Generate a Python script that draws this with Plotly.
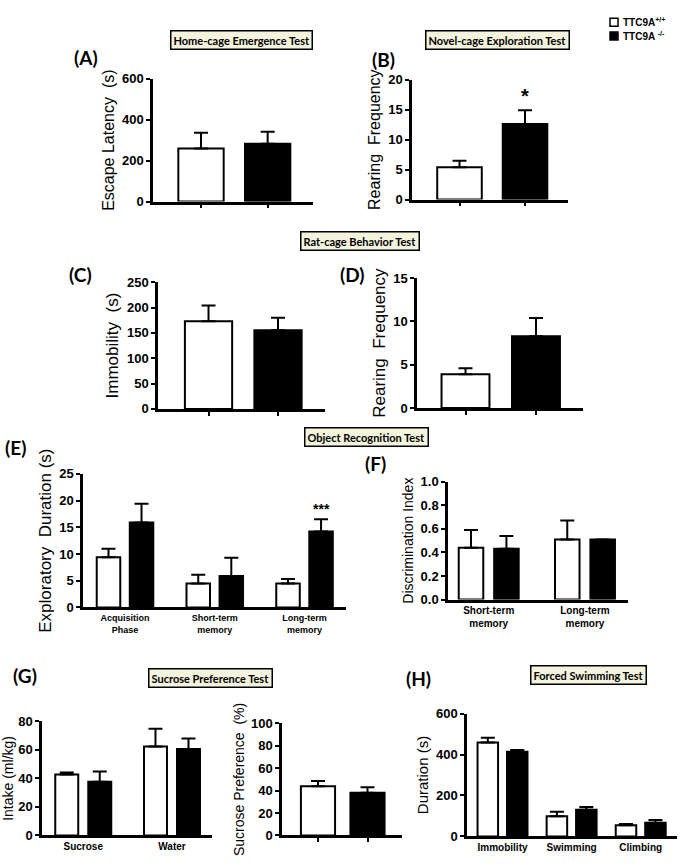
import plotly.graph_objects as go

W, H = 685, 868

# ---------------- data ----------------
groups = ["TTC9A+/+", "TTC9A-/-"]
bar_colors = ["white", "black"]

escape_mean = [259, 283]
escape_err = [77, 58]

novel_rear_mean = [5.4, 12.6]
novel_rear_err = [1.1, 2.3]

rat_immob_mean = [173, 155]
rat_immob_err = [31, 25]

rat_rear_mean = [3.9, 8.3]
rat_rear_err = [0.7, 2.1]

or_phases = ["Acquisition<br>Phase", "Short-term<br>memory", "Long-term<br>memory"]
or_wt_mean = [9.4, 4.5, 4.5]
or_wt_err = [1.6, 1.6, 0.8]
or_ko_mean = [15.9, 5.9, 14.2]
or_ko_err = [3.5, 3.4, 2.3]

di_phases = ["Short-term<br>memory", "Long-term<br>memory"]
di_wt_mean = [0.44, 0.51]
di_wt_err = [0.15, 0.16]
di_ko_mean = [0.43, 0.51]
di_ko_err = [0.11, 0.0]

intake_cats = ["Sucrose", "Water"]
intake_wt_mean = [42.8, 62.5]
intake_wt_err = [1.3, 12.4]
intake_ko_mean = [37.7, 60.7]
intake_ko_err = [7.1, 7.3]

pref_mean = [44, 38]
pref_err = [4.6, 5.0]

fst_cats = ["Immobility", "Swimming", "Climbing"]
fst_wt_mean = [459, 99, 54]
fst_wt_err = [23, 21, 7]
fst_ko_mean = [414, 130, 67]
fst_ko_err = [8, 14, 13]

# ---------------- helpers ----------------
ARIAL = "Liberation Sans, Arial, sans-serif"
CAL = "Lato, Carlito, Calibri, sans-serif"


def dx(a, b):
    return [a / W, b / W]


def dy(top, bottom):
    return [1 - bottom / H, 1 - top / H]


def px(x):
    return x / W


def py(y):
    return 1 - y / H


fig = go.Figure()
layout = {}


def err(arr):
    return dict(type="data", array=arr, arrayminus=[0] * len(arr), symmetric=False,
                thickness=2, width=7, color="black", visible=True)


def axes(n, xdom, ydom, xrange, yrange, dtick, ytitle, ytsize, xlabels=False,
         xfont=None, xticks=True):
    xs = "xaxis" if n == 1 else f"xaxis{n}"
    ys = "yaxis" if n == 1 else f"yaxis{n}"
    a = "" if n == 1 else str(n)
    layout[xs] = dict(domain=xdom, anchor="y" + a, range=xrange, type="category",
                      showline=True, linecolor="black", linewidth=2.5,
                      ticks="outside" if xticks else "", ticklen=4, tickwidth=2, tickcolor="black",
                      showticklabels=xlabels, showgrid=False, zeroline=False,
                      tickfont=xfont or dict(family=ARIAL, size=10, color="black", weight="bold"),
                      fixedrange=True)
    layout[ys] = dict(domain=ydom, anchor="x" + a, range=yrange, dtick=dtick,
                      showline=True, linecolor="black", linewidth=2.5,
                      ticks="outside", ticklen=4, tickwidth=2, tickcolor="black",
                      showgrid=False, zeroline=False,
                      tickfont=dict(family=ARIAL, size=13, color="black", weight="bold"),
                      title=dict(text=ytitle, standoff=4,
                                 font=dict(family=ARIAL, size=ytsize, color="black")),
                      fixedrange=True)


def two_bar(n, means, errs, width=0.68):
    a = "" if n == 1 else str(n)
    for i in range(2):
        fig.add_trace(go.Bar(
            x=[groups[i]], y=[means[i]], error_y=err([errs[i]]),
            marker=dict(color=bar_colors[i], line=dict(color="black", width=2)),
            width=width, offset=-width / 2, xaxis="x" + a, yaxis="y" + a,
            showlegend=False, name=groups[i]))


def grouped(n, cats, wt_m, wt_e, ko_m, ko_e, w, sep):
    a = "" if n == 1 else str(n)
    for i, (m, e) in enumerate([(wt_m, wt_e), (ko_m, ko_e)]):
        off = (-sep if i == 0 else sep) - w / 2
        fig.add_trace(go.Bar(
            x=cats, y=m, error_y=err(e),
            marker=dict(color=bar_colors[i], line=dict(color="black", width=2)),
            width=w, offset=off, xaxis="x" + a, yaxis="y" + a,
            showlegend=False, name=groups[i]))


# A
two_bar(1, escape_mean, escape_err)
axes(1, dx(153, 313), dy(73, 198), [-0.72, 1.68], [0, 600], 200, "Escape Latency  (s)", 16)
# B
two_bar(2, novel_rear_mean, novel_rear_err)
axes(2, dx(412, 568), dy(74, 196), [-0.725, 1.656], [0, 20], 5, "Rearing  Frequency", 16)
# C
two_bar(3, rat_immob_mean, rat_immob_err)
axes(3, dx(158, 325), dy(280, 409), [-0.727, 1.676], [0, 250], 50, "Immobility  (s)", 17)
# D
two_bar(4, rat_rear_mean, rat_rear_err)
axes(4, dx(417, 583), dy(276, 408), [-0.688, 1.667], [0, 15], 5, "Rearing  Frequency", 17)
# E
grouped(5, or_phases, or_wt_mean, or_wt_err, or_ko_mean, or_ko_err, 0.262, 0.184)
axes(5, dx(83, 346), dy(475, 611), [-0.468, 2.462], [0, 25], 5, "Exploratory  Duration (s)", 17,
     xlabels=True, xfont=dict(family=ARIAL, size=9, color="black", weight="bold"), xticks=False)
# F
grouped(6, di_phases, di_wt_mean, di_wt_err, di_ko_mean, di_ko_err, 0.255, 0.184)
axes(6, dx(448, 628), dy(483, 603), [-0.423, 1.447], [0, 1.0], 0.2, "Discrimination Index", 14,
     xlabels=True, xticks=False)
layout["yaxis6"]["tickformat"] = ".1f"
# G left
grouped(7, intake_cats, intake_wt_mean, intake_wt_err, intake_ko_mean, intake_ko_err, 0.259, 0.186)
axes(7, dx(42, 212), dy(727, 843), [-0.465, 1.451], [0, 80], 20, "Intake (ml/kg)", 14,
     xlabels=True, xticks=False)
# G right
two_bar(8, pref_mean, pref_err, width=0.69)
axes(8, dx(282, 402), dy(729, 843), [-0.727, 1.697], [0, 100], 20, "Sucrose Preference  (%)", 14)
# H
grouped(9, fst_cats, fst_wt_mean, fst_wt_err, fst_ko_mean, fst_ko_err, 0.297, 0.213)
axes(9, dx(467, 677), dy(719, 844), [-0.514, 2.525], [0, 600], 200, "Duration (s)", 15,
     xlabels=True, xticks=False)

annotations = []

# title boxes
for text, cx, cy in [("Home-cage Emergence Test", 241, 33.5),
                     ("Novel-cage Exploration Test", 497.5, 34),
                     ("Rat-cage Behavior Test", 360, 238.5),
                     ("Object Recognition Test", 366.5, 438),
                     ("Sucrose Preference Test", 210.5, 682.5),
                     ("Forced Swimming Test", 588, 679.5)]:
    annotations.append(dict(text=text, x=px(cx), y=py(cy), xref="paper", yref="paper",
                            showarrow=False, xanchor="center", yanchor="middle",
                            bgcolor="#f3f3de", bordercolor="black", borderwidth=1.5, borderpad=2,
                            font=dict(family=CAL, size=11, color="black", weight="bold")))

# panel labels
for text, cx, cy in [("(A)", 85.5, 51.5), ("(B)", 383, 53.5), ("(C)", 80, 272), ("(D)", 352, 272),
                     ("(E)", 16, 448), ("(F)", 375, 465), ("(G)", 25, 680), ("(H)", 418, 683)]:
    annotations.append(dict(text=text, x=px(cx), y=py(cy), xref="paper", yref="paper",
                            showarrow=False, xanchor="center", yanchor="middle",
                            font=dict(family=CAL, size=19, color="black", weight="bold")))

# significance marks
annotations.append(dict(text="*", x=1, y=17.3, xref="x2", yref="y2", showarrow=False,
                        font=dict(family=ARIAL, size=20, color="black", weight="bold")))
annotations.append(dict(text="***", x=2.184, y=18.4, xref="x5", yref="y5", showarrow=False,
                        font=dict(family=ARIAL, size=14, color="black", weight="bold")))

# legend
shapes = []
for i, (label, cy) in enumerate([("TTC9A<sup>+/+</sup>", 15.5), ("TTC9A <sup>-/-</sup>", 29.5)]):
    shapes.append(dict(type="rect", xref="paper", yref="paper",
                       x0=px(610), x1=px(618), y0=py(cy + 4), y1=py(cy - 4),
                       fillcolor=bar_colors[i], line=dict(color="black", width=1.5)))
    annotations.append(dict(text=label, x=px(621), y=py(cy), xref="paper", yref="paper",
                            showarrow=False, xanchor="left", yanchor="middle",
                            font=dict(family=ARIAL, size=10, color="black", weight="bold")))

fig.update_layout(width=W, height=H, margin=dict(l=0, r=0, t=0, b=0),
                  paper_bgcolor="white", plot_bgcolor="white",
                  barmode="overlay", showlegend=False,
                  annotations=annotations, shapes=shapes, **layout)

fig.write_html("out.html", config={"displayModeBar": False},
               post_script="document.body.style.margin='0';")
